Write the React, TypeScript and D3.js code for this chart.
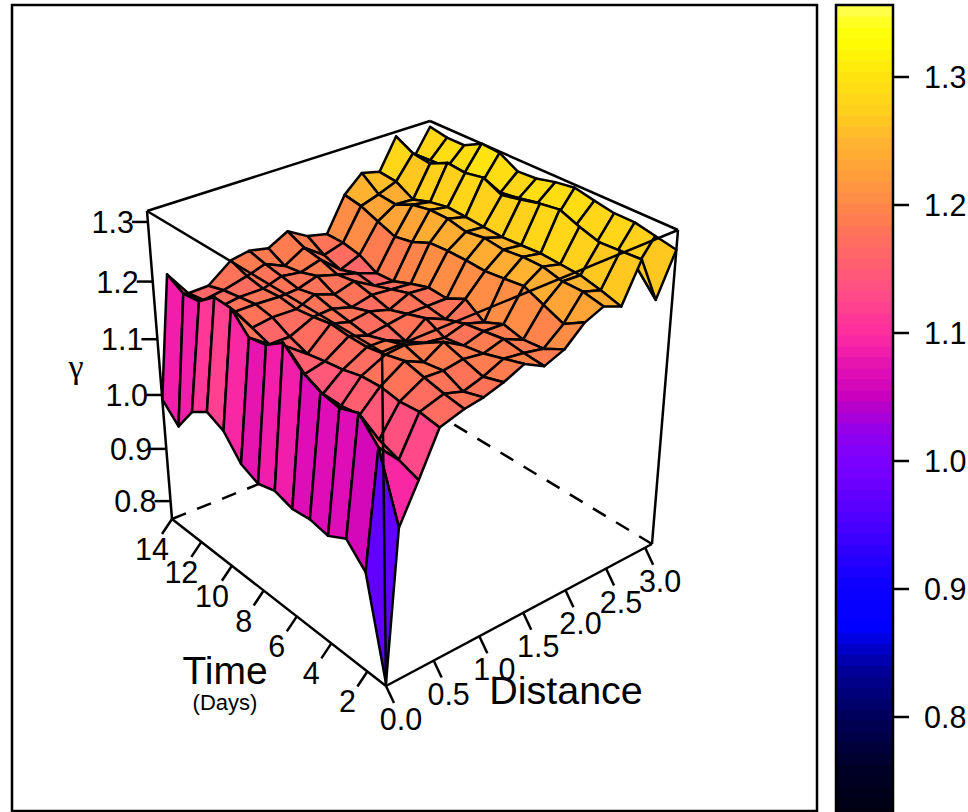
import React from 'react';
import * as d3 from 'd3';

// Grid of the surface, rows are distance, columns run from day 14 down to day 1
const days = [14, 13, 12, 11, 10, 9, 8, 7, 6, 5, 4, 3, 2, 1];
const distances = [0, 0.144, 0.34, 0.546, 0.793, 0.989, 1.195, 1.411, 1.627, 1.844, 2.06, 2.266, 2.472, 2.678, 2.884, 3.09];

const gamma = [
  [0.992, 0.962, 1.008, 1.028, 1.014, 0.976, 0.962, 0.971, 0.961, 0.965, 0.959, 0.977, 0.943, 0.77],
  [1.204, 1.188, 1.192, 1.216, 1.215, 1.184, 1.19, 1.212, 1.184, 1.169, 1.163, 1.175, 1.14, 1.03],
  [1.16, 1.165, 1.17, 1.18, 1.17, 1.16, 1.175, 1.147, 1.133, 1.133, 1.138, 1.117, 1.105, 1.093],
  [1.161, 1.17, 1.175, 1.18, 1.175, 1.16, 1.149, 1.155, 1.16, 1.168, 1.17, 1.165, 1.168, 1.163],
  [1.191, 1.18, 1.175, 1.178, 1.174, 1.178, 1.184, 1.181, 1.181, 1.187, 1.195, 1.187, 1.18, 1.175],
  [1.197, 1.19, 1.185, 1.18, 1.187, 1.18, 1.175, 1.17, 1.18, 1.19, 1.18, 1.185, 1.17, 1.18],
  [1.19, 1.175, 1.18, 1.19, 1.175, 1.17, 1.18, 1.175, 1.165, 1.18, 1.2, 1.19, 1.18, 1.19],
  [1.208, 1.195, 1.19, 1.18, 1.185, 1.178, 1.17, 1.18, 1.19, 1.175, 1.18, 1.185, 1.195, 1.205],
  [1.188, 1.17, 1.16, 1.17, 1.165, 1.175, 1.185, 1.18, 1.175, 1.185, 1.19, 1.195, 1.19, 1.187],
  [1.18, 1.18, 1.174, 1.158, 1.16, 1.172, 1.182, 1.18, 1.196, 1.174, 1.188, 1.18, 1.183, 1.2],
  [1.238, 1.233, 1.221, 1.21, 1.216, 1.23, 1.232, 1.232, 1.23, 1.234, 1.238, 1.224, 1.21, 1.23],
  [1.266, 1.243, 1.24, 1.254, 1.26, 1.26, 1.253, 1.258, 1.254, 1.258, 1.258, 1.25, 1.25, 1.243],
  [1.258, 1.255, 1.238, 1.248, 1.254, 1.252, 1.25, 1.248, 1.25, 1.252, 1.25, 1.248, 1.24, 1.23],
  [1.31, 1.294, 1.29, 1.305, 1.302, 1.308, 1.293, 1.3, 1.308, 1.313, 1.3, 1.29, 1.292, 1.294],
  [1.263, 1.272, 1.274, 1.278, 1.276, 1.272, 1.277, 1.284, 1.275, 1.277, 1.26, 1.26, 1.254, 1.216],
  [1.308, 1.302, 1.302, 1.318, 1.316, 1.298, 1.3, 1.308, 1.313, 1.306, 1.3, 1.3, 1.293, 1.286],
];

const timeTicks = [2, 4, 6, 8, 10, 12, 14];
const distanceTicks = [0, 0.5, 1, 1.5, 2, 2.5, 3];
const gammaTicks = [0.8, 0.9, 1.0, 1.1, 1.2, 1.3];
const keyTicks = [0.8, 0.9, 1.0, 1.1, 1.2, 1.3];

const paletteValues = [0.72, 0.76, 0.8, 0.84, 0.87, 0.9, 0.96, 1.0, 1.02, 1.05, 1.07, 1.1, 1.13, 1.16, 1.19, 1.22, 1.25, 1.27, 1.3, 1.33, 1.34, 1.356];
const paletteColors = ['#00000f', '#000028', '#00005a', '#0000a0', '#0000ff', '#0a00ff', '#5500ff', '#7d00ff', '#8c00f0', '#c800be', '#e10fb4', '#ff2da0', '#ff4b87', '#ff6469', '#ff7d50', '#ff9b3c', '#ffb42d', '#ffcd1e', '#ffe40f', '#ffff00', '#ffff14', '#ffff5a'];

const W = 968;
const H = 812;
const FONT = '"Liberation Sans", Arial, sans-serif';

// Corners of the 3d box as seen in the picture [distance, time, gamma], plus perspective weights
const boxCorners = [
  { k: [0, 0, 0], p: [386, 686] },
  { k: [1, 0, 0], p: [652, 544] },
  { k: [0, 1, 0], p: [172, 519] },
  { k: [1, 1, 0], p: [435, 413] },
  { k: [0, 0, 1], p: [382, 352] },
  { k: [1, 0, 1], p: [678, 230] },
  { k: [0, 1, 1], p: [147, 211] },
  { k: [1, 1, 1], p: [430, 121] },
];
const weightDistance = 1.13;
const weightTime = 1.143;
const weightGamma = 0.9;

const dMax = 3.09;
const uScale = d3.scaleLinear().domain([0, dMax]).range([0, 1]);
const vScale = d3.scaleLinear().domain([1, 14]).range([0, 1]);
const wScale = d3.scaleLinear().domain([0.765, 1.318]).range([0, 1]);

const project = (dist: number, day: number, g: number): [number, number] => {
  const u = uScale(dist);
  const v = vScale(day);
  const w = wScale(g);
  let sx = 0;
  let sy = 0;
  let sw = 0;
  boxCorners.forEach(({ k, p }) => {
    const wt = 1 + (weightDistance - 1) * k[0] + (weightTime - 1) * k[1] + (weightGamma - 1) * k[2];
    const b = (k[0] ? u : 1 - u) * (k[1] ? v : 1 - v) * (k[2] ? w : 1 - w) * wt;
    sx += b * p[0];
    sy += b * p[1];
    sw += b;
  });
  return [sx / sw, sy / sw];
};

const gMin = wScale.domain()[0];
const gMax = wScale.domain()[1];
const dayMin = 1;
const dayMax = 14;

const palette = d3.scaleLinear<string>().domain(paletteValues).range(paletteColors).interpolate(d3.interpolateRgb).clamp(true);

// key has flat bands, like R's levelplot key
const keyY = d3.scaleLinear().domain([0.8, 1.3]).range([717, 77]);
const bandStep = 0.0086;
const keyTop = 1.356;
const bandOf = (g: number) => keyTop - (Math.floor((keyTop - g) / bandStep) + 0.5) * bandStep;
const keyBands = d3.range(0, 74).map((i) => keyTop - i * bandStep);

const line = d3.line<[number, number]>();

type Facet = { id: string; d: string; fill: string };
const facets: Facet[] = [];
for (let i = distances.length - 2; i >= 0; i--) {
  for (let j = 0; j < days.length - 1; j++) {
    const pts: [number, number, number][] = [
      [distances[i], days[j], gamma[i][j]],
      [distances[i + 1], days[j], gamma[i + 1][j]],
      [distances[i + 1], days[j + 1], gamma[i + 1][j + 1]],
      [distances[i], days[j + 1], gamma[i][j + 1]],
    ];
    const mean = d3.mean(pts, (p) => p[2]) as number;
    facets.push({
      id: `${i}-${j}`,
      d: (line(pts.map((p) => project(p[0], p[1], p[2]))) as string) + 'Z',
      fill: palette(bandOf(mean)),
    });
  }
}

const seg = (a: [number, number, number], b: [number, number, number]) =>
  line([project(a[0], a[1], a[2]), project(b[0], b[1], b[2])]) as string;

const sw = 2.5;

export default function App() {
  return (
    <svg width={W} height={H} style={{ position: 'absolute', left: 0, top: 0, display: 'block' }} fontFamily={FONT}>
      <rect x={0} y={0} width={W} height={H} fill="#fff" />
      <rect x={12} y={5} width={805} height={806} fill="none" stroke="#000" strokeWidth={sw} />

      {/* hidden box edges */}
      <g stroke="#000" strokeWidth={sw} fill="none" strokeDasharray="15 12">
        <path d={seg([0, dayMax, gMin], [dMax, dayMax, gMin])} />
        <path d={seg([dMax, dayMin, gMin], [dMax, dayMax, gMin])} />
      </g>
      <g stroke="#000" strokeWidth={sw} fill="none">
        <path d={seg([0, dayMax, gMax], [dMax, dayMax, gMax])} />
        <path d={seg([dMax, dayMax, gMax], [dMax, dayMin, gMax])} />
      </g>

      {/* surface, far facets first */}
      <g stroke="#000" strokeWidth={sw} strokeLinejoin="round">
        {facets.map((f) => (
          <path key={f.id} d={f.d} fill={f.fill} />
        ))}
      </g>

      {/* front box edges */}
      <g stroke="#000" strokeWidth={sw} fill="none">
        <path d={seg([0, dayMin, gMin], [0, dayMax, gMin])} />
        <path d={seg([0, dayMin, gMin], [dMax, dayMin, gMin])} />
        <path d={seg([0, dayMax, gMin], [0, dayMax, gMax])} />
        <path d={seg([dMax, dayMin, gMin], [dMax, dayMin, gMax])} />
        <path d={seg([0, dayMin, gMin], [0, dayMin, gMax])} />
        <path d={seg([0, dayMin, gMax], [0, dayMax, gMax])} />
        <path d={seg([0, dayMin, gMax], [dMax, dayMin, gMax])} />
      </g>

      {/* axis ticks and labels */}
      <g stroke="#000" strokeWidth={sw}>
        {timeTicks.map((t) => {
          const [x, y] = project(0, t, gMin);
          return <line key={t} x1={x} y1={y} x2={x - 10} y2={y + 15} />;
        })}
        {distanceTicks.map((t) => {
          const [x, y] = project(t, dayMin, gMin);
          return <line key={t} x1={x} y1={y} x2={x + 8} y2={y + 17} />;
        })}
        {gammaTicks.map((t) => {
          const [x, y] = project(0, dayMax, t);
          return <line key={t} x1={x} y1={y} x2={x - 16} y2={y} />;
        })}
      </g>
      <g fontSize={30.5} fill="#000">
        {timeTicks.map((t) => {
          const [x, y] = project(0, t, gMin);
          return (
            <text key={t} x={x - 20} y={y + 30} textAnchor="middle" dy="0.36em">
              {t}
            </text>
          );
        })}
        {distanceTicks.map((t) => {
          const [x, y] = project(t, dayMin, gMin);
          return (
            <text key={t} x={x + 15} y={y + 33} textAnchor="middle" dy="0.36em">
              {t.toFixed(1)}
            </text>
          );
        })}
        {gammaTicks.map((t) => {
          const [x, y] = project(0, dayMax, t);
          return (
            <text key={t} x={x - 14} y={y} textAnchor="end" dy="0.36em">
              {t.toFixed(1)}
            </text>
          );
        })}
      </g>
      <text x={225} y={684} fontSize={39} textAnchor="middle">Time</text>
      <text x={225} y={710} fontSize={22} textAnchor="middle">(Days)</text>
      <text x={566} y={704} fontSize={39.5} textAnchor="middle">Distance</text>
      <text x={76} y={378} fontSize={34} textAnchor="middle" fontFamily='"Liberation Serif", "DejaVu Serif", serif'>γ</text>

      {/* color key */}
      <g>
        {keyBands.map((b) => (
          <rect
            key={b}
            x={836}
            y={keyY(b)}
            width={57}
            height={keyY(b - bandStep) - keyY(b) + 0.5}
            fill={palette(b - bandStep / 2)}
          />
        ))}
      </g>
      <rect x={836} y={5} width={57} height={812} fill="none" stroke="#000" strokeWidth={sw} />
      <g stroke="#000" strokeWidth={sw}>
        {keyTicks.map((t) => (
          <line key={t} x1={893} x2={909} y1={keyY(t)} y2={keyY(t)} />
        ))}
      </g>
      <g fontSize={30.5} fill="#000">
        {keyTicks.map((t) => (
          <text key={t} x={924} y={keyY(t)} dy="0.36em">
            {t.toFixed(1)}
          </text>
        ))}
      </g>
    </svg>
  );
}
